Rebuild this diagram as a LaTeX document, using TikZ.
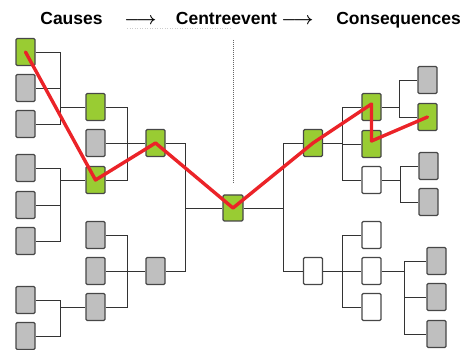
\documentclass[tikz,border=0pt]{standalone}
\usepackage{fontspec}
\setmainfont{Liberation Sans}
\begin{document}
\begin{tikzpicture}[x=1pt,y=-1pt,
  box/.style={draw=black!72,line width=1.2pt,rounded corners=1.2pt,minimum width=19pt,minimum height=27pt,inner sep=0pt},
  grbox/.style={box,fill=black!25},
  wbox/.style={box,fill=white},
  conn/.style={draw=black!80,line width=0.8pt},
  title/.style={font=\bfseries\fontsize{17.5}{20}\selectfont,inner sep=0pt,anchor=base},
  arrowtext/.style={font=\fontsize{17.5}{20}\selectfont\boldmath,inner sep=0pt,anchor=base}]
\useasboundingbox (0,0) rectangle (469,350);
\definecolor{boxgreen}{RGB}{153,204,51}
\definecolor{pathred}{RGB}{235,35,40}
\tikzset{gbox/.style={box,fill=boxgreen},
  redpath/.style={draw=pathred,line width=3.4pt,line join=round,line cap=round}}
% title
\node[title] (t1) at (71.5,25) {Causes};
\node[arrowtext] (t2) at (140.5,25) {$\longrightarrow$};
\node[title] (t3) at (226.5,25) {Centreevent};
\node[arrowtext] (t4) at (297.5,25) {$\longrightarrow$};
\node[title] (t5) at (398.5,25) {Consequences};
\coordinate (u1) at (127,28.5);
\coordinate (u2) at (230,28.5);
\draw[black!20,dotted,line width=0.5pt] (u1) -- (u2);
% centre dotted line
\coordinate (d1) at (233,40);
\coordinate (d2) at (233,183);
\draw[black!60,line width=0.6pt,dash pattern=on 1pt off 1pt] (d1) -- (d2);
% left column 1
\node[gbox] (L1a) at (25.5,52) {};
\node[grbox] (L1b) at (25.5,88) {};
\node[grbox] (L1c) at (25.5,124) {};
\node[grbox] (L1d) at (25.5,168) {};
\node[grbox] (L1e) at (25.5,205) {};
\node[grbox] (L1f) at (25.5,241) {};
\node[grbox] (L1g) at (25.5,300) {};
\node[grbox] (L1h) at (25.5,336) {};
% left column 2
\node[gbox] (L2a) at (95.5,107) {};
\node[grbox] (L2b) at (95.5,143) {};
\node[gbox] (L2c) at (95.5,180) {};
\node[grbox] (L2d) at (95.5,235) {};
\node[grbox] (L2e) at (95.5,271) {};
\node[grbox] (L2f) at (95.5,307) {};
% left column 3
\node[gbox] (L3a) at (155.5,143) {};
\node[grbox] (L3b) at (155.5,271) {};
% centre
\node[gbox,minimum width=20pt,minimum height=26pt] (C) at (233,208) {};
% right column 3
\node[gbox] (R3a) at (313,143) {};
\node[wbox] (R3b) at (313,271) {};
% right column 2
\node[gbox] (R2a) at (371.5,107) {};
\node[gbox] (R2b) at (371.5,144) {};
\node[wbox] (R2c) at (371.5,180) {};
\node[wbox] (R2d) at (371.5,235) {};
\node[wbox] (R2e) at (371.5,271) {};
\node[wbox] (R2f) at (371.5,307) {};
% right column 1
\node[grbox] (R1a) at (427.5,80) {};
\node[gbox] (R1b) at (427.5,117) {};
\node[grbox] (R1c) at (428.5,166) {};
\node[grbox] (R1d) at (428.5,202) {};
\node[grbox] (R1e) at (436.5,261) {};
\node[grbox] (R1f) at (436.5,297) {};
\node[grbox] (R1g) at (436.5,334) {};
% junctions
\coordinate (bL1) at (60,107);
\coordinate (bL2) at (60,180);
\coordinate (bL3) at (60,307);
\coordinate (bL4) at (127,143);
\coordinate (bL5) at (127,271);
\coordinate (bL6) at (185,208);
\coordinate (bR1) at (283,208);
\coordinate (bR2) at (342,143);
\coordinate (bR3) at (342,271);
\coordinate (bR4) at (399,107);
\coordinate (bR5) at (400,180);
\coordinate (bR6) at (404,271);
% left connectors
\path[conn] (L1a.east) -| (bL1) (L1b.east) -| (bL1) (L1c.east) -| (bL1) (bL1) -- (L2a.west);
\path[conn] (L1d.east) -| (bL2) (L1e.east) -| (bL2) (L1f.east) -| (bL2) (bL2) -- (L2c.west);
\path[conn] (L1g.east) -| (bL3) (L1h.east) -| (bL3) (bL3) -- (L2f.west);
\path[conn] (L2a.east) -| (bL4) (L2b.east) -| (bL4) (L2c.east) -| (bL4) (bL4) -- (L3a.west);
\path[conn] (L2d.east) -| (bL5) (L2e.east) -| (bL5) (L2f.east) -| (bL5) (bL5) -- (L3b.west);
\path[conn] (L3a.east) -| (bL6) (L3b.east) -| (bL6) (bL6) -- (C.west);
% right connectors
\path[conn] (C.east) -- (bR1) (bR1) |- (R3a.west) (bR1) |- (R3b.west);
\path[conn] (R3a.east) -- (bR2) (bR2) |- (R2a.west) (bR2) |- (R2b.west) (bR2) |- (R2c.west);
\path[conn] (R3b.east) -- (bR3) (bR3) |- (R2d.west) (bR3) |- (R2e.west) (bR3) |- (R2f.west);
\path[conn] (R2a.east) -- (bR4) (bR4) |- (R1a.west) (bR4) |- (R1b.west);
\path[conn] (R2c.east) -- (bR5) (bR5) |- (R1c.west) (bR5) |- (R1d.west);
\path[conn] (R2e.east) -- (bR6) (bR6) |- (R1e.west) (bR6) |- (R1f.west) (bR6) |- (R1g.west);
% red path
\path[redpath] (L1a.center) -- (L2c.center) -- (L3a.center) -- (C.center) -- (R3a.center) -- ([yshift=3pt]R2a.center) -- ([yshift=3pt]R2b.center) -- (R1b.center);
\end{tikzpicture}
\end{document}
